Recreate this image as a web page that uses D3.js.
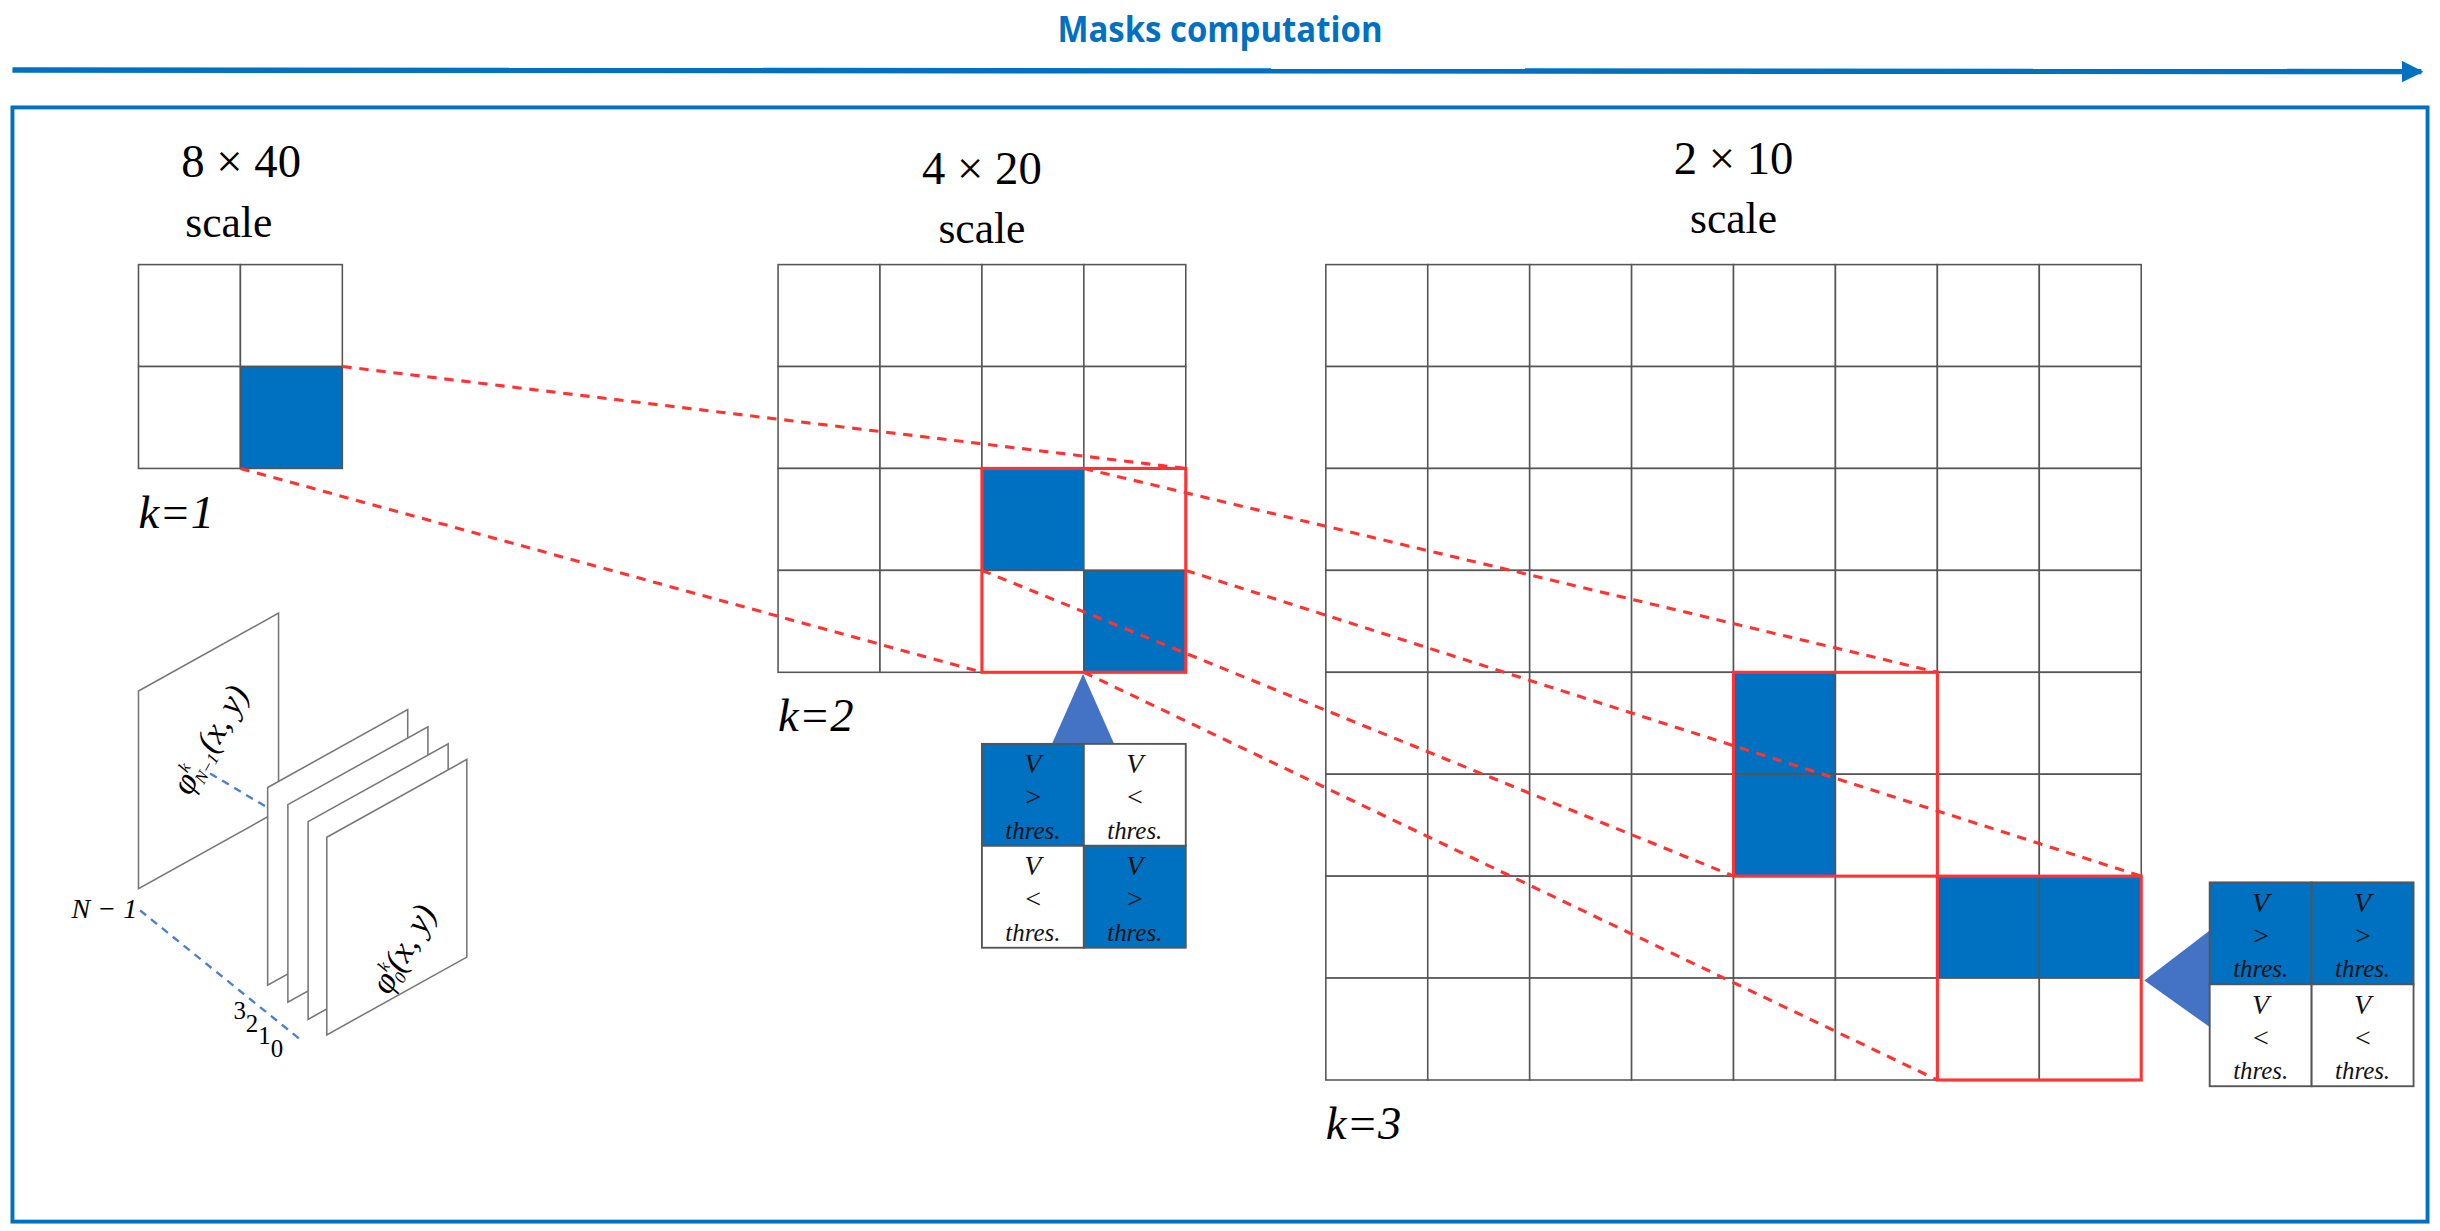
<!DOCTYPE html>
<html>
<head>
<meta charset="utf-8">
<script src="https://cdn.jsdelivr.net/npm/d3@7"></script>
<style>
  html, body { margin: 0; padding: 0; background: #fff; }
</style>
</head>
<body>
<script>
// grids at each scale: cells per side, filled cells [col,row], red boxes [col,row,w,h]
const scaleLabels = ["8 \u00d7 40", "4 \u00d7 20", "2 \u00d7 10"];
const kLabels = ["k=1", "k=2", "k=3"];
const gridSizes = [2, 4, 8];
const filled = [
  [[1, 1]],
  [[2, 2], [3, 3]],
  [[4, 4], [4, 5], [6, 6], [7, 6]]
];
const redBoxes = [
  [],
  [[2, 2, 2, 2]],
  [[4, 4, 2, 2], [6, 6, 2, 2]]
];
// threshold tables: filled flags per cell (row-major)
const threshTables = [
  [true, false, false, true],
  [true, true, false, false]
];
const planeIndexLabels = ["3", "2", "1", "0"];

const W = 1568, H = 791;
const svg = d3.select("body").append("svg")
  .attr("width", 2440).attr("height", 1231)
  .attr("viewBox", [0, 0, W, H]);

const blue = "#0070C0";
const serif = "'Liberation Serif', 'DejaVu Serif', serif";

const defs = svg.append("defs");
defs.append("marker").attr("id", "arr")
  .attr("viewBox", "0 0 10 10").attr("refX", 9).attr("refY", 5)
  .attr("markerWidth", 4).attr("markerHeight", 4).attr("orient", "auto")
  .append("path").attr("d", "M0,0L10,5L0,10Z").attr("fill", blue);

// title + arrow
svg.append("text").attr("x", 784).attr("y", 27)
  .attr("text-anchor", "middle").attr("fill", blue)
  .attr("font-family", "'Open Sans', sans-serif").attr("font-weight", 700)
  .attr("font-size", 23).attr("transform", "translate(784,0) scale(0.92,1) translate(-784,0)")
  .text("Masks computation");
svg.append("line").attr("x1", 8).attr("x2", 1556).attr("y1", 45).attr("y2", 46)
  .attr("stroke", blue).attr("stroke-width", 3.5).attr("marker-end", "url(#arr)");

// frame
svg.append("rect").attr("x", 8).attr("y", 69).attr("width", 1552).attr("height", 716)
  .attr("fill", "none").attr("stroke", blue).attr("stroke-width", 2.5);

const cell = 65.5;
const origins = [[89, 170], [500, 170], [852, 170]];
const labelX = [155, 631, 1114];

const grids = gridSizes.map((n, i) => {
  const [ox, oy] = origins[i];
  const x = d3.scaleLinear().domain([0, n]).range([ox, ox + n * cell]);
  const y = d3.scaleLinear().domain([0, n]).range([oy, oy + n * cell]);
  return {n, x, y};
});

grids.forEach((gr, i) => {
  const g = svg.append("g");
  const cells = d3.cross(d3.range(gr.n), d3.range(gr.n));
  const fillSet = new Set(filled[i].map(d => d.join(",")));
  g.selectAll("rect.c").data(cells).join("rect").attr("class", "c")
    .attr("x", d => gr.x(d[0])).attr("y", d => gr.y(d[1]))
    .attr("width", cell).attr("height", cell)
    .attr("fill", d => fillSet.has(d.join(",")) ? blue : "#fff")
    .attr("stroke", "#555").attr("stroke-width", 1);
  g.selectAll("rect.r").data(redBoxes[i]).join("rect").attr("class", "r")
    .attr("x", d => gr.x(d[0])).attr("y", d => gr.y(d[1]))
    .attr("width", d => gr.x(d[2]) - gr.x(0)).attr("height", d => gr.y(d[3]) - gr.y(0))
    .attr("fill", "none").attr("stroke", "#ff3333").attr("stroke-width", 2);

  const ty = i === 2 ? 112 : (i === 0 ? 114 : 118);
  svg.append("text").attr("x", labelX[i]).attr("y", ty)
    .attr("text-anchor", "middle").attr("font-family", serif).attr("font-size", 30)
    .text(scaleLabels[i]);
  svg.append("text").attr("x", i === 0 ? 147 : labelX[i]).attr("y", ty + 38)
    .attr("text-anchor", "middle").attr("font-family", serif).attr("font-size", 28)
    .text("scale");
  svg.append("text").attr("x", gr.x(0)).attr("y", gr.y(gr.n) + 38)
    .attr("font-family", serif).attr("font-style", "italic").attr("font-size", 30)
    .text(kLabels[i]);
});

// dashed projection lines from a filled cell's corners to its red box in the next grid
const dash = svg.append("g").attr("stroke", "#ff3333").attr("stroke-width", 2)
  .attr("stroke-dasharray", "6,5").attr("fill", "none");
function seg(a, b) {
  dash.append("line").attr("x1", a[0]).attr("y1", a[1]).attr("x2", b[0]).attr("y2", b[1]);
}
seg([grids[0].x(2), grids[0].y(1)], [grids[1].x(4), grids[1].y(2)]);
seg([grids[0].x(1), grids[0].y(2)], [grids[1].x(2), grids[1].y(4)]);
seg([grids[1].x(3), grids[1].y(2)], [grids[2].x(6), grids[2].y(4)]);
seg([grids[1].x(2), grids[1].y(3)], [grids[2].x(4), grids[2].y(6)]);
seg([grids[1].x(4), grids[1].y(3)], [grids[2].x(8), grids[2].y(6)]);
seg([grids[1].x(3), grids[1].y(4)], [grids[2].x(6), grids[2].y(8)]);

// threshold tables
const tPos = [[631, 478], [1420, 567]];
const triColor = "#4472C4";
svg.append("path").attr("d", "M696,433L676,478L716,478Z").attr("fill", triColor);
svg.append("path").attr("d", "M1378,630L1420,598L1420,660Z").attr("fill", triColor);
threshTables.forEach((flags, ti) => {
  const [tx, ty] = tPos[ti];
  const g = svg.append("g");
  flags.forEach((f, j) => {
    const cxp = tx + (j % 2) * cell, cyp = ty + Math.floor(j / 2) * cell;
    g.append("rect").attr("x", cxp).attr("y", cyp).attr("width", cell).attr("height", cell)
      .attr("fill", f ? blue : "#fff").attr("stroke", "#555").attr("stroke-width", 1.2);
    const lines = ["V", f ? ">" : "<", "thres."];
    lines.forEach((s, k) => {
      g.append("text").attr("x", cxp + cell / 2).attr("y", cyp + 19 + k * 21)
        .attr("text-anchor", "middle").attr("font-family", serif)
        .attr("font-style", "italic").attr("font-size", k === 2 ? 16 : 18)
        .attr("fill", "#111").text(s);
    });
  });
});

// stack of feature planes
const planes = [[89, 444], [172, 506], [185, 517], [198, 528], [210, 538]];
const pg = svg.append("g");
planes.forEach(([px, py]) => {
  pg.append("path")
    .attr("d", `M${px},${py}L${px + 90},${py - 50}L${px + 90},${py + 77}L${px},${py + 127}Z`)
    .attr("fill", "#fff").attr("stroke", "#777").attr("stroke-width", 1);
});
pg.append("line").attr("x1", 135).attr("y1", 497).attr("x2", 172).attr("y2", 519)
  .attr("stroke", "#4a7fd0").attr("stroke-width", 1.5).attr("stroke-dasharray", "5,4");
pg.append("line").attr("x1", 90).attr("y1", 585).attr("x2", 193).attr("y2", 668)
  .attr("stroke", "#4a7fd0").attr("stroke-width", 1.5).attr("stroke-dasharray", "5,4");
pg.append("text").attr("transform", "translate(122,512) rotate(-60)")
  .attr("font-family", serif).attr("font-style", "italic").attr("font-size", 22)
  .html("\u03c6<tspan font-size='11' dy='-9'>k</tspan><tspan font-size='11' dx='-6' dy='13'>N\u22121</tspan><tspan dy='-4'>(x, y)</tspan>");
pg.append("text").attr("transform", "translate(250,640) rotate(-60)")
  .attr("font-family", serif).attr("font-style", "italic").attr("font-size", 22)
  .html("\u03c6<tspan font-size='11' dy='-9'>k</tspan><tspan font-size='11' dx='-6' dy='13'>0</tspan><tspan dy='-4'>(x, y)</tspan>");
pg.append("text").attr("x", 46).attr("y", 590).attr("font-family", serif)
  .attr("font-style", "italic").attr("font-size", 18).text("N \u2212 1");
planeIndexLabels.forEach((s, i) => {
  pg.append("text").attr("x", 150 + i * 8).attr("y", 655 + i * 8)
    .attr("font-family", serif).attr("font-size", 16).text(s);
});
</script>
</body>
</html>
